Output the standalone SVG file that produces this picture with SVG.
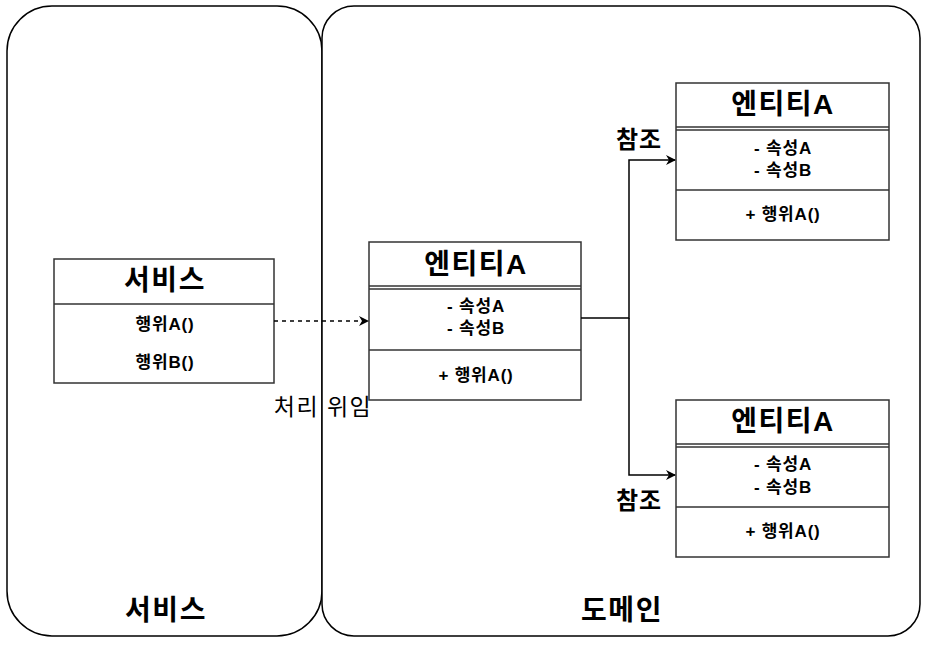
<svg xmlns="http://www.w3.org/2000/svg" width="930" height="647" viewBox="0 0 930 647">
<defs>
<style>
text{font-family:"Liberation Sans","Noto Sans CJK KR",sans-serif;fill:#000;text-anchor:middle;dominant-baseline:central}
.title{font-size:28px;font-weight:bold;letter-spacing:1.5px}
.body{font-size:17px;font-weight:bold;letter-spacing:0.8px}
.lbl{font-size:24px;font-weight:bold;letter-spacing:1px}
.box{fill:#fff;stroke:#333;stroke-width:1.5}
.ln{stroke:#333;stroke-width:1.5;fill:none}
.cont{fill:#fff;stroke:#000;stroke-width:1.5}
.edge{stroke:#000;stroke-width:1.5;fill:none}
</style>
<marker id="arr" markerWidth="10" markerHeight="10" refX="9" refY="5" orient="auto" markerUnits="userSpaceOnUse">
<path d="M0,0 L10,5 L0,10 L3,5 Z" fill="#000"/>
</marker>
</defs>
<rect width="930" height="647" fill="#fff"/>
<g id="container-service">
<rect class="cont" x="7" y="6" width="315" height="630" rx="45" ry="45"/>
<text class="title" x="166" y="610">서비스</text>
</g>
<g id="container-domain">
<rect class="cont" x="322" y="6" width="598" height="630" rx="32" ry="32"/>
<text class="title" x="622" y="610">도메인</text>
</g>
<g id="service">
<rect class="box" x="54" y="259" width="220" height="124"/>
<line class="ln" x1="54" y1="304" x2="274" y2="304"/>
<text class="title" x="165" y="280">서비스</text>
<text class="body" x="165" y="324">행위A()</text>
<text class="body" x="165" y="362">행위B()</text>
</g>
<g id="entity-main">
<rect class="box" x="369" y="242" width="212" height="158"/>
<line class="ln" x1="369" y1="286" x2="581" y2="286"/>
<line class="ln" x1="369" y1="289" x2="581" y2="289"/>
<line class="ln" x1="369" y1="350" x2="581" y2="350"/>
<text class="title" x="476" y="264">엔티티A</text>
<text class="body" x="476" y="306">- 속성A</text>
<text class="body" x="476" y="328">- 속성B</text>
<text class="body" x="476" y="375">+ 행위A()</text>
</g>
<g id="entity-top">
<rect class="box" x="676" y="83" width="213" height="157"/>
<line class="ln" x1="676" y1="127" x2="889" y2="127"/>
<line class="ln" x1="676" y1="130" x2="889" y2="130"/>
<line class="ln" x1="676" y1="190" x2="889" y2="190"/>
<text class="title" x="783" y="104">엔티티A</text>
<text class="body" x="783" y="148">- 속성A</text>
<text class="body" x="783" y="170">- 속성B</text>
<text class="body" x="783" y="214">+ 행위A()</text>
</g>
<g id="entity-bottom">
<rect class="box" x="676" y="400" width="213" height="157"/>
<line class="ln" x1="676" y1="444" x2="889" y2="444"/>
<line class="ln" x1="676" y1="447" x2="889" y2="447"/>
<line class="ln" x1="676" y1="507" x2="889" y2="507"/>
<text class="title" x="783" y="421">엔티티A</text>
<text class="body" x="783" y="464">- 속성A</text>
<text class="body" x="783" y="487">- 속성B</text>
<text class="body" x="783" y="531">+ 행위A()</text>
</g>
<g id="connectors">
<line class="edge" x1="274" y1="321" x2="368" y2="321" stroke-dasharray="4,4" marker-end="url(#arr)"/>
<text x="323" y="407" style="font-size:23px;letter-spacing:1.5px">처리 위임</text>
<path class="edge" d="M581,318 H629 V160 H675" marker-end="url(#arr)"/>
<path class="edge" d="M629,318 V475 H675" marker-end="url(#arr)"/>
<text class="lbl" x="639" y="139">참조</text>
<text class="lbl" x="639" y="500">참조</text>
</g>
</svg>
